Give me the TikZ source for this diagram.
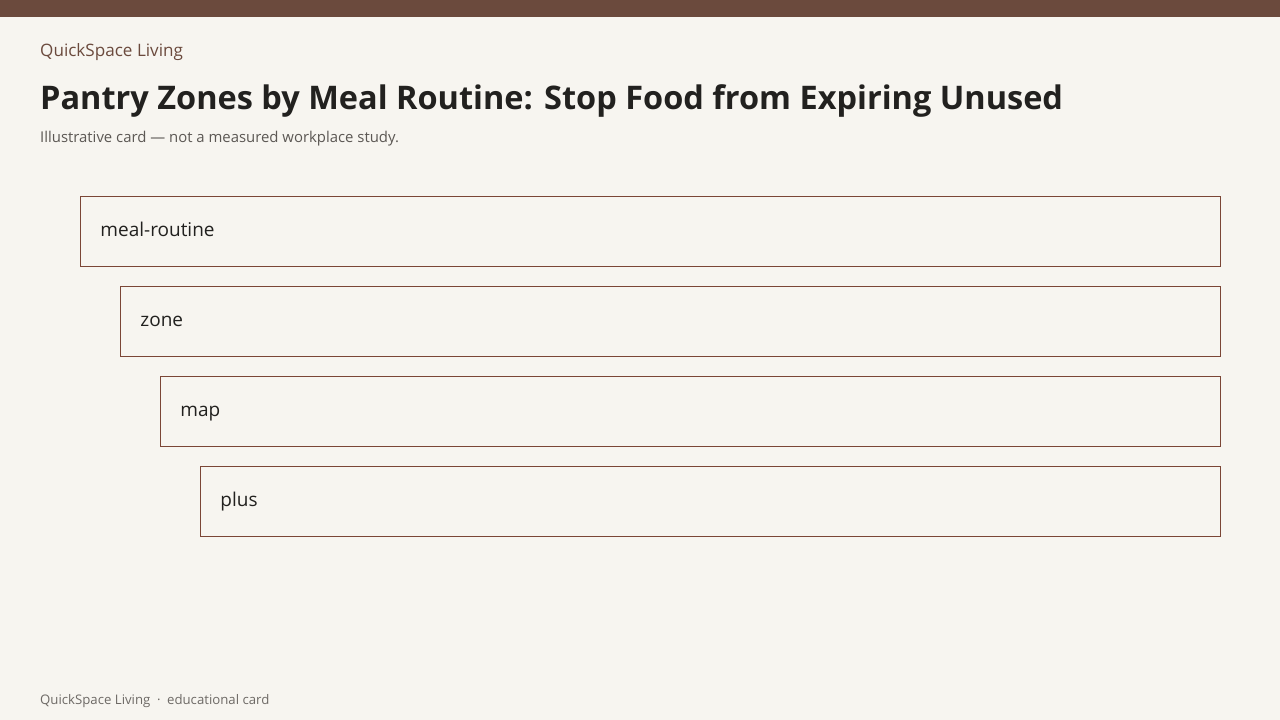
\documentclass[tikz,border=0pt]{standalone}
\usepackage{fontspec}
\setmainfont{Open Sans}
\usepackage{tikz}
\usetikzlibrary{positioning}
\definecolor{bgcream}{HTML}{F7F5F0}
\definecolor{barbrown}{HTML}{6B4A3D}
\definecolor{edgebrown}{HTML}{7B4636}
\definecolor{inkdark}{HTML}{22211F}
\definecolor{inkgrey}{HTML}{5C5854}
\definecolor{footgrey}{HTML}{6E6A66}

\begin{document}
\begin{tikzpicture}[x=1pt, y=-1pt,
    every node/.style={inner sep=0pt, anchor=base west},
    zonebox/.style={draw=edgebrown, line width=0.9pt, fill=bgcream, anchor=north west,
      minimum height=70pt, inner xsep=20pt, align=left, text=inkdark,
      text height=14pt, text depth=4pt, font=\fontsize{19}{23}\selectfont}]
    \fill[bgcream] (0,0) rectangle (1280,720);
    \fill[barbrown] (0,0) rectangle (1280,17);
    \useasboundingbox (0,0) rectangle (1280,720);
    \node[text=barbrown, font=\fontsize{17.1}{21}\selectfont] (brand) at (40,56) {QuickSpace Living};
    \node[text=inkdark, font=\fontsize{32.5}{39}\selectfont\bfseries] (title) at (40,109) {Pantry Zones by Meal Routine: Stop Food from Expiring Unused};
    \node[text=inkgrey, font=\fontsize{14.9}{18}\selectfont] (sub) at (40,142) {Illustrative card --- not a measured workplace study.};
    \node[zonebox, text width=1100pt] (meal) at (80,196) {meal-routine};
    \node[zonebox, text width=1060pt] (zone) at (120,286) {zone};
    \node[zonebox, text width=1020pt] (map) at (160,376) {map};
    \node[zonebox, text width=980pt] (plus) at (200,466) {plus};
    \node[text=footgrey, font=\fontsize{13.2}{16}\selectfont] (foot) at (40,704) {QuickSpace Living\enspace\textperiodcentered\enspace educational card};
  \end{tikzpicture}
\end{document}
